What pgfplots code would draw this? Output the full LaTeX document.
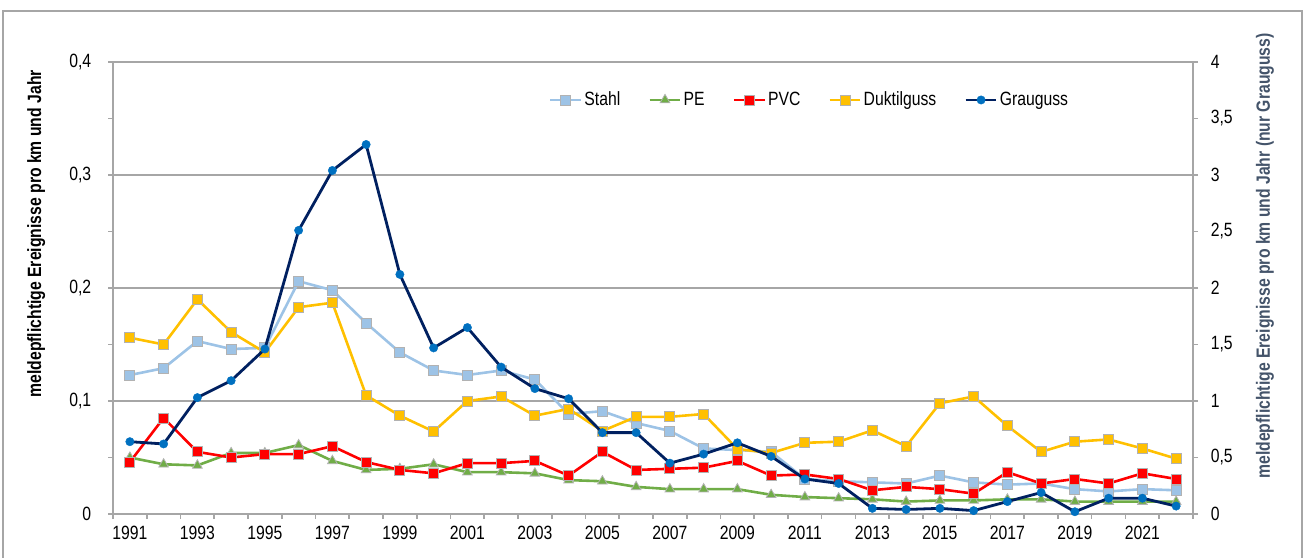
\documentclass[border=0pt]{standalone}
\usepackage{fontspec}
\setmainfont{Liberation Sans}[FakeStretch=0.82]
\usepackage{pgfplots}
\usepackage{pgfplotstable}
\pgfplotsset{compat=1.18}
\definecolor{stahl}{HTML}{9DC3E6}
\definecolor{pe}{HTML}{70AD47}
\definecolor{pvc}{HTML}{FF0000}
\definecolor{dukt}{HTML}{FFC000}
\definecolor{grau}{HTML}{002060}
\definecolor{graumark}{HTML}{0070C0}
\definecolor{axgray}{HTML}{A6A6A6}
\definecolor{lab2}{HTML}{44546A}
\pgfplotstableread{
year stahl pe pvc dukt grau
1991 0.123 0.050 0.046 0.156 0.64
1992 0.129 0.044 0.085 0.150 0.62
1993 0.153 0.043 0.055 0.190 1.03
1994 0.146 0.054 0.050 0.161 1.18
1995 0.147 0.054 0.053 0.143 1.46
1996 0.206 0.061 0.053 0.183 2.51
1997 0.198 0.047 0.060 0.187 3.04
1998 0.169 0.039 0.046 0.105 3.27
1999 0.143 0.040 0.039 0.087 2.12
2000 0.127 0.044 0.036 0.073 1.47
2001 0.123 0.037 0.045 0.100 1.65
2002 0.127 0.037 0.045 0.104 1.30
2003 0.119 0.036 0.047 0.087 1.11
2004 0.0885 0.030 0.034 0.093 1.02
2005 0.091 0.029 0.055 0.0735 0.72
2006 0.0805 0.024 0.039 0.086 0.72
2007 0.0735 0.022 0.040 0.086 0.45
2008 0.058 0.022 0.041 0.0885 0.53
2009 0.0566 0.022 0.047 0.0575 0.63
2010 0.055 0.017 0.034 0.054 0.51
2011 0.031 0.015 0.035 0.063 0.31
2012 0.029 0.014 0.031 0.064 0.27
2013 0.028 0.013 0.021 0.074 0.05
2014 0.027 0.011 0.024 0.060 0.04
2015 0.034 0.012 0.022 0.098 0.05
2016 0.028 0.012 0.018 0.104 0.03
2017 0.026 0.013 0.037 0.078 0.11
2018 0.027 0.013 0.027 0.055 0.19
2019 0.022 0.011 0.031 0.064 0.02
2020 0.020 0.011 0.027 0.066 0.14
2021 0.022 0.011 0.036 0.058 0.14
2022 0.021 0.011 0.031 0.049 0.07
}\data
\pgfplotsset{
  stahlst/.style={color=stahl, line width=1.3pt, mark=square*, mark size=2.5pt, mark options={fill=stahl, draw=gray!60, line width=0.4pt, solid}},
  pest/.style={color=pe, line width=1.3pt, mark=triangle*, mark size=2.8pt, mark options={fill=pe, draw=gray!60, line width=0.4pt, solid}},
  pvcst/.style={color=pvc, line width=1.3pt, mark=square*, mark size=2.5pt, mark options={fill=pvc, draw=gray!60, line width=0.4pt, solid}},
  duktst/.style={color=dukt, line width=1.3pt, mark=square*, mark size=2.5pt, mark options={fill=dukt, draw=gray!60, line width=0.4pt, solid}},
  graust/.style={color=grau, line width=1.4pt, mark=*, mark size=2.1pt, mark options={fill=graumark, draw=graumark, line width=0.2pt, solid}},
  common/.style={
    at={(56.5pt,21.5pt)}, anchor=south west,
    scale only axis, width=540pt, height=226pt,
    xmin=1990.5, xmax=2022.5,
    tick align=outside,
    axis line style={axgray, line width=0.8pt},
    tick style={axgray, line width=0.8pt},
    major tick length=2.5pt, minor tick length=2.5pt,
  },
}
\begin{document}
\fontsize{9.6}{11}\selectfont
\begin{tikzpicture}
\useasboundingbox (0,0) rectangle (652pt,278.5pt);
\draw[axgray, line width=0.8pt] (1.5pt,-5pt) -- (1.5pt,273pt) -- (651pt,273pt) -- (651pt,-5pt);
\begin{axis}[common,
  ymin=0, ymax=0.4,
  xtick pos=bottom, ytick pos=left,
  xtick={1991,1993,...,2021},
  xticklabels={1991,1993,1995,1997,1999,2001,2003,2005,2007,2009,2011,2013,2015,2017,2019,2021},
  major x tick style={draw=none},
  minor xtick={1990.5,1991.5,...,2022.5},
  ytick={0,0.1,0.2,0.3,0.4},
  yticklabels={0,{0,1},{0,2},{0,3},{0,4}},
  minor ytick={0.05,0.15,0.25,0.35},
  ymajorgrids, grid style={axgray, line width=0.8pt},
  yticklabel style={xshift=-5pt},
  ylabel={\bfseries meldepflichtige Ereignisse pro km und Jahr},
  ylabel style={at={(axis description cs:-0.071,0.62)}, anchor=center},
]
\addplot[stahlst] table[x=year,y=stahl]{\data};
\addplot[pest] table[x=year,y=pe]{\data};
\addplot[pvcst] table[x=year,y=pvc]{\data};
\addplot[duktst] table[x=year,y=dukt]{\data};
\end{axis}
\begin{axis}[common,
  ymin=0, ymax=4,
  axis x line=none, axis y line*=right,
  ytick={0,0.5,...,4},
  yticklabels={0,{0,5},1,{1,5},2,{2,5},3,{3,5},4},
  yticklabel style={xshift=3pt},
  ylabel={\bfseries meldepflichtige Ereignisse pro km und Jahr (nur Grauguss)},
  ylabel style={at={(axis description cs:1.0667,0.571)}, anchor=center, rotate=0, color=lab2},
  legend style={at={(axis description cs:0.645,0.916)}, anchor=center, draw=none, fill=none,
    legend columns=5, /tikz/every odd column/.append style={column sep=0pt},
    /tikz/every even column/.append style={column sep=13pt},
    nodes={inner sep=1pt}},
  legend image code/.code={\draw[mark repeat=2,mark phase=2] plot coordinates {(0cm,0cm) (0.27cm,0cm) (0.54cm,0cm)};},
]
\addlegendimage{stahlst}\addlegendentry{Stahl}
\addlegendimage{pest}\addlegendentry{PE}
\addlegendimage{pvcst}\addlegendentry{PVC}
\addlegendimage{duktst}\addlegendentry{Duktilguss}
\addplot[graust] table[x=year,y=grau]{\data};
\addlegendentry{Grauguss}
\end{axis}
\end{tikzpicture}
\end{document}
